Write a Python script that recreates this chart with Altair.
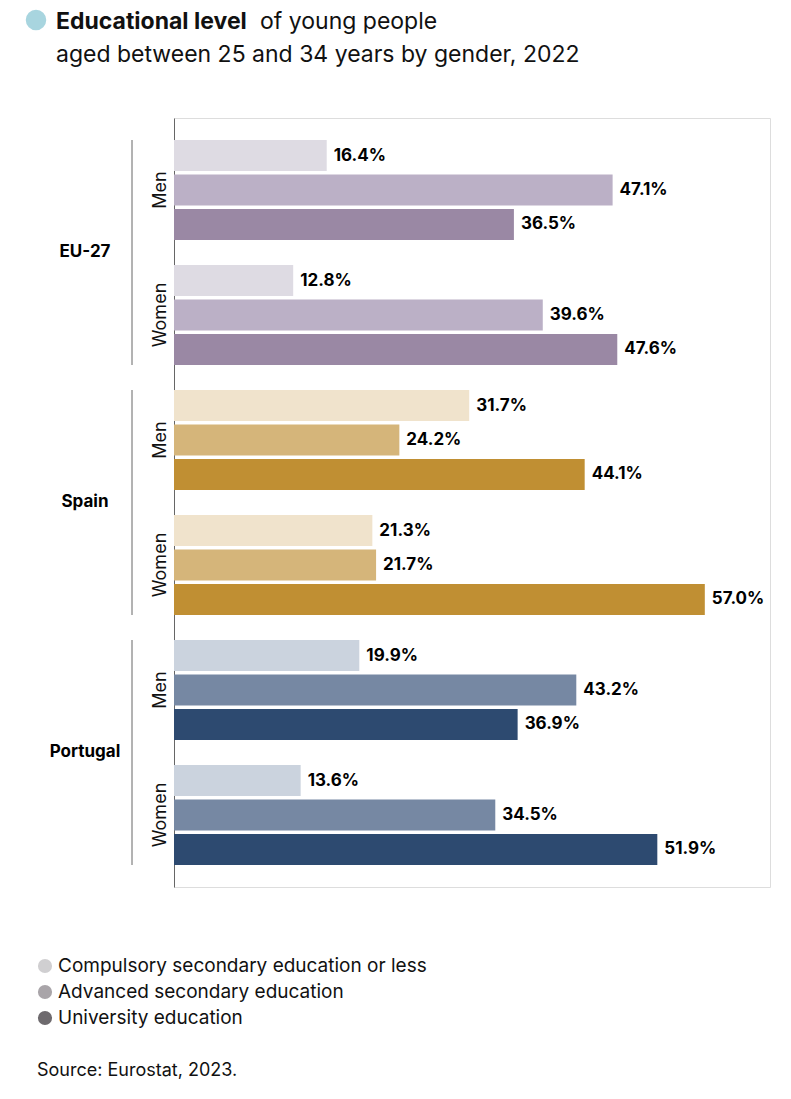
import altair as alt
import pandas as pd

countries = ["EU-27", "Spain", "Portugal"]
genders = ["Men", "Women"]
levels = ["Compulsory secondary education or less", "Advanced secondary education", "University education"]
values = {
    "EU-27": {"Men": [16.4, 47.1, 36.5], "Women": [12.8, 39.6, 47.6]},
    "Spain": {"Men": [31.7, 24.2, 44.1], "Women": [21.3, 21.7, 57.0]},
    "Portugal": {"Men": [19.9, 43.2, 36.9], "Women": [13.6, 34.5, 51.9]},
}
palette = {
    "EU-27": ["#dedbe3", "#bbb0c6", "#9a88a4"],
    "Spain": ["#f0e3cc", "#d5b57a", "#c08f33"],
    "Portugal": ["#cbd3de", "#7688a3", "#2d4a70"],
}
legend_colors = ["#d0cfd1", "#a9a5a9", "#6e6a6e"]

rows = []
for c in countries:
    for g in genders:
        for i, v in enumerate(values[c][g]):
            rows.append({"group": f"{c}|{g}", "level": i, "value": v,
                         "ck": f"{c}{i}", "label": f"{v:.1f}%"})
df = pd.DataFrame(rows)
gdom = [f"{c}|{g}" for c in countries for g in genders]
cdom = [f"{c}{i}" for c in countries for i in range(3)]
crange = [palette[c][i] for c in countries for i in range(3)]

FONT = "Inter"
yscale = alt.Scale(domain=gdom, paddingInner=0.2, paddingOuter=0.176)
xscale = alt.Scale(domain=[0, 64])

base = alt.Chart(df)
bars = base.mark_bar().encode(
    x=alt.X("value:Q", scale=xscale, axis=None),
    y=alt.Y("group:N", scale=yscale, title=None,
            axis=alt.Axis(labelExpr="split(datum.label,'|')[1]", labelAngle=-90,
                          labelAlign="center", labelBaseline="middle", labelPadding=14,
                          ticks=False, domainColor="#666", labelFont=FONT,
                          labelFontSize=18, labelColor="#111")),
    yOffset=alt.YOffset("level:O", scale=alt.Scale(paddingInner=0.1)),
    color=alt.Color("ck:N", scale=alt.Scale(domain=cdom, range=crange), legend=None),
)
texts = base.mark_text(align="left", dx=7, fontWeight="bold", fontSize=17, font=FONT, color="#000").encode(
    x=alt.X("value:Q", scale=xscale),
    y=alt.Y("group:N", scale=yscale),
    yOffset=alt.YOffset("level:O", scale=alt.Scale(paddingInner=0.1)),
    text="label:N",
)

cdf = pd.DataFrame({"country": countries,
                    "m": [f"{c}|Men" for c in countries],
                    "w": [f"{c}|Women" for c in countries]})
cb = alt.Chart(cdf)
brackets = cb.mark_rule(color="#666", strokeWidth=1).encode(
    x=alt.value(-42),
    y=alt.Y("m:N", scale=yscale, bandPosition=0),
    y2=alt.Y2("w:N", bandPosition=1),
)
clabels = cb.mark_text(align="center", baseline="middle", dy=-13, fontWeight="bold",
                       fontSize=17, font=FONT, color="#000").encode(
    x=alt.value(-89),
    y=alt.Y("w:N", scale=yscale, bandPosition=0),
    text="country:N",
)

ann = pd.DataFrame({"k": [0]})
a = alt.Chart(ann)
dot = a.mark_circle(size=420, color="#a8d5df", opacity=1).encode(x=alt.value(-138), y=alt.value(-98))
t1 = a.mark_text(align="left", baseline="middle", fontSize=23, fontWeight="bold", font=FONT, color="#111").encode(
    x=alt.value(-118), y=alt.value(-96), text=alt.value("Educational level"))
t2 = a.mark_text(align="left", baseline="middle", fontSize=23, font=FONT, color="#111").encode(
    x=alt.value(86), y=alt.value(-96), text=alt.value("of young people"))
t3 = a.mark_text(align="left", baseline="middle", fontSize=23, font=FONT, color="#111").encode(
    x=alt.value(-118), y=alt.value(-63), text=alt.value("aged between 25 and 34 years by gender, 2022"))

legend_layers = []
for i, (name, col) in enumerate(zip(levels, legend_colors)):
    yy = 848 + 26 * i
    legend_layers.append(a.mark_circle(size=200, opacity=1, color=col).encode(
        x=alt.value(-129), y=alt.value(yy)))
    legend_layers.append(a.mark_text(align="left", baseline="middle", fontSize=19, font=FONT, color="#111").encode(
        x=alt.value(-116), y=alt.value(yy), text=alt.value(name)))
src = a.mark_text(align="left", baseline="middle", fontSize=18, font=FONT, color="#111").encode(
    x=alt.value(-137), y=alt.value(953), text=alt.value("Source: Eurostat, 2023."))
sep = a.mark_rule(color="#bbb").encode(x=alt.value(-137), x2=alt.value(594), y=alt.value(980))

chart = alt.layer(bars, texts, brackets, clabels, dot, t1, t2, t3, *legend_layers, src, sep).resolve_scale(
    color="independent"
).properties(
    width=596, height=769,
    autosize=alt.AutoSizeParams(type="none"),
    padding={"left": 166, "top": 110, "right": 13, "bottom": 200},
).configure_view(stroke=None).configure(background="white")

chart.save("out.html", embed_options={"renderer": "svg", "actions": False})
